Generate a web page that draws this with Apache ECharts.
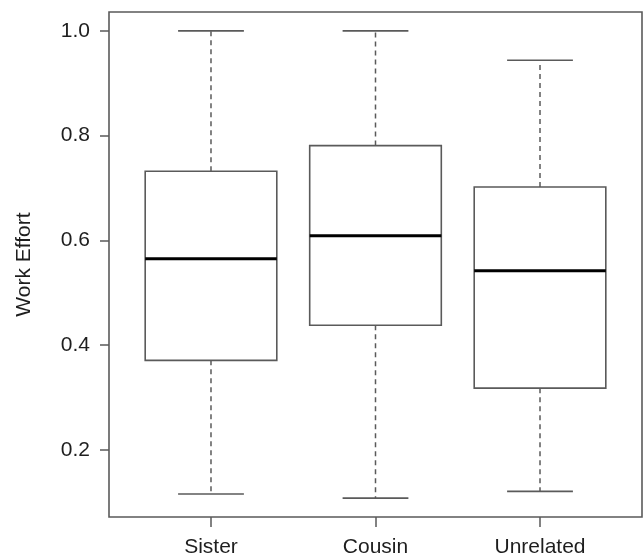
<!DOCTYPE html>
<html>
<head>
<meta charset="utf-8">
<script src="https://cdn.jsdelivr.net/npm/echarts@6/dist/echarts.min.js"></script>
<style>
html,body{margin:0;padding:0;background:#fff;}
#chart{width:643px;height:557px;}
</style>
</head>
<body>
<div id="chart"></div>
<script>
var categories = ['Sister', 'Cousin', 'Unrelated'];
var whiskerLow = [0.116, 0.108, 0.121];
var q1 = [0.371, 0.438, 0.318];
var median = [0.565, 0.609, 0.542];
var q3 = [0.732, 0.781, 0.702];
var whiskerHigh = [1.0, 1.0, 0.944];
var yTicks = [0.2, 0.4, 0.6, 0.8, 1.0];

var data = categories.map(function (c, i) {
  return [i + 1, whiskerLow[i], q1[i], median[i], q3[i], whiskerHigh[i]];
});

var lineColor = '#5a5a5a';
var font = 'Liberation Sans, Arial, sans-serif';
var chart = echarts.init(document.getElementById('chart'));
chart.setOption({
  backgroundColor: '#fff',
  animation: false,
  grid: {
    left: 109, right: 1, top: 12, bottom: 40,
    outerBoundsMode: 'none', containLabel: false,
    show: true, borderColor: lineColor, borderWidth: 1.6, backgroundColor: 'transparent'
  },
  xAxis: {
    type: 'value', min: 0.38, max: 3.62,
    axisLine: { show: false },
    splitLine: { show: false },
    axisTick: { show: true, length: 10, customValues: [1, 2, 3], lineStyle: { color: lineColor, width: 1.5 } },
    axisLabel: {
      customValues: [1, 2, 3], margin: 20,
      fontFamily: font, fontSize: 21, color: '#1e1e1e',
      formatter: function (v) { return categories[Math.round(v) - 1] || ''; }
    }
  },
  yAxis: {
    type: 'value', min: 0.072, max: 1.036,
    name: 'Work Effort', nameLocation: 'middle', nameGap: 74,
    nameTextStyle: { fontFamily: font, fontSize: 21, color: '#1e1e1e' },
    axisLine: { show: false },
    splitLine: { show: false },
    axisTick: { show: true, length: 9, customValues: yTicks, lineStyle: { color: lineColor, width: 1.5 } },
    axisLabel: {
      customValues: yTicks, margin: 19,
      fontFamily: font, fontSize: 21, color: '#1e1e1e',
      formatter: function (v) { return v.toFixed(1); }
    }
  },
  series: [{
    type: 'custom',
    data: data,
    encode: { x: 0, y: [1, 2, 3, 4, 5] },
    renderItem: function (params, api) {
      var x = api.value(0);
      var boxW = api.size([0.8, 0])[0];
      var capW = boxW / 2;
      var pMin = api.coord([x, api.value(1)]);
      var pQ1 = api.coord([x, api.value(2)]);
      var pMed = api.coord([x, api.value(3)]);
      var pQ3 = api.coord([x, api.value(4)]);
      var pMax = api.coord([x, api.value(5)]);
      var cx = pMed[0];
      var dashStyle = { stroke: lineColor, lineWidth: 1.5, lineDash: [5, 4] };
      var solid = { stroke: lineColor, lineWidth: 1.6 };
      return {
        type: 'group',
        children: [
          { type: 'line', shape: { x1: cx, y1: pQ3[1], x2: cx, y2: pMax[1] }, style: dashStyle },
          { type: 'line', shape: { x1: cx, y1: pQ1[1], x2: cx, y2: pMin[1] }, style: dashStyle },
          { type: 'line', shape: { x1: cx - capW / 2, y1: pMax[1], x2: cx + capW / 2, y2: pMax[1] }, style: solid },
          { type: 'line', shape: { x1: cx - capW / 2, y1: pMin[1], x2: cx + capW / 2, y2: pMin[1] }, style: solid },
          { type: 'rect', shape: { x: cx - boxW / 2, y: pQ3[1], width: boxW, height: pQ1[1] - pQ3[1] },
            style: { fill: '#fff', stroke: lineColor, lineWidth: 1.6 } },
          { type: 'line', shape: { x1: cx - boxW / 2, y1: pMed[1], x2: cx + boxW / 2, y2: pMed[1] },
            style: { stroke: '#000', lineWidth: 3 } }
        ]
      };
    }
  }]
});
</script>
</body>
</html>
